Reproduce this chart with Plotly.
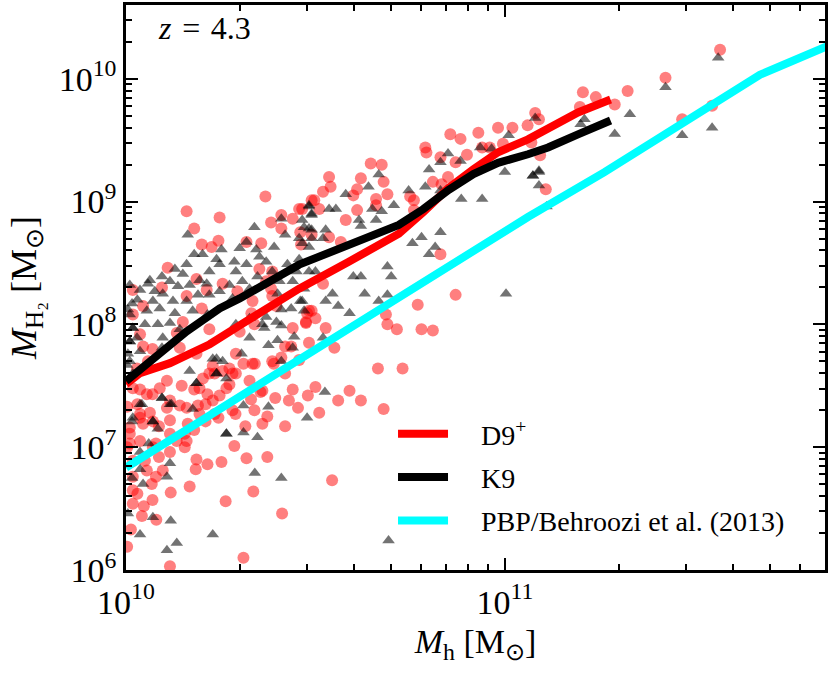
import numpy as np
import plotly.graph_objects as go

# galaxy samples at z = 4.3, values as log10(M / Msun)
d9_log_mh = [
    11.568, 11.424, 11.324, 11.29, 11.206, 11.24, 11.198, 11.08, 11.09, 11.093, 11.108, 11.468, 11.547, 11.07,
    10.856, 10.883, 10.93, 10.982, 11.02, 11.06, 10.79, 10.793, 10.94, 10.96, 10.995, 10.83, 10.87, 10.90,
    10.646, 10.675, 10.62, 10.68, 10.85, 10.81, 10.833, 10.536, 10.54, 10.52, 10.61, 10.60, 10.66, 10.69,
    10.497, 10.75, 10.76, 10.465, 10.51, 10.61, 10.66, 10.76, 10.58, 10.536, 10.567, 10.462, 10.83, 10.52,
    10.87, 10.77, 10.686, 10.69, 10.715, 10.78, 10.81, 10.527, 10.50, 10.483, 10.475, 10.483, 10.55,
    10.436, 10.39, 10.41, 10.34, 10.31, 10.42, 10.457, 10.665, 10.73, 10.50, 10.44, 10.43, 10.48, 10.454,
    10.51, 10.59, 10.56, 10.62, 10.68, 10.394, 10.355, 10.33, 10.373, 10.36, 10.42, 10.315, 10.318, 10.373,
    10.336, 10.544,
    10.286, 10.252, 10.215, 10.186, 10.184, 10.168, 10.118, 10.263, 10.412, 10.31, 10.116, 10.013, 10.003,
    10.042, 10.08, 10.047, 10.07, 10.018, 10.03, 10.018, 10.068, 10.079, 10.097, 10.055, 10.018, 10.087,
    10.05, 10.116, 10.155, 10.134, 10.079, 10.01, 10.018, 10.01, 10.045, 10.087, 10.116, 10.155, 10.18,
    10.163, 10.21, 10.244, 10.19, 10.142, 10.108, 10.063, 10.03, 10.003, 10.037, 10.21, 10.247, 10.215,
    10.18, 10.147, 10.108, 10.07, 10.037, 10.234, 10.203, 10.273, 10.281, 10.326, 10.36, 10.339, 10.289,
    10.234,
    10.368, 10.16, 10.247, 10.18, 10.20, 10.244, 10.357, 10.226, 10.318, 10.11, 10.018, 10.045, 10.095,
    10.186, 10.213, 10.16, 10.2, 10.255, 10.294, 10.383, 10.386, 10.334, 10.331, 10.339, 10.30, 10.15,
    10.134, 10.22, 10.142, 10.186, 10.07, 10.045, 10.058, 10.029, 10.229, 10.273, 10.29, 10.29, 10.334,
    10.386, 10.42, 10.44, 10.475, 10.478, 10.49, 10.397, 10.37, 10.41, 10.44, 10.457, 10.49, 10.383, 10.41,
    10.46, 10.49, 10.352, 10.386, 10.018, 10.037,
    10.018, 10.055, 10.089, 10.116, 10.16, 10.194, 10.22, 10.255, 10.265, 10.194, 10.229, 10.281, 10.037,
    10.01, 10.071, 10.116, 10.16, 10.037, 10.003, 10.071,
]
d9_log_mh2 = [
    10.235, 10.008, 9.90, 9.79, 9.89, 9.85, 9.77, 9.72, 9.67, 9.377, 9.10, 9.67, 9.78, 9.48,
    9.547, 9.51, 9.56, 9.60, 9.60, 9.62, 9.44, 9.40, 9.44, 9.44, 9.47, 9.36, 9.32, 9.38,
    9.31, 9.30, 9.19, 9.16, 9.20, 9.16, 9.14, 9.20, 9.12, 9.08, 9.10, 9.05, 9.02, 9.06,
    9.01, 9.04, 9.01, 8.94, 8.94, 8.93, 8.97, 8.93, 8.85, 8.71, 8.67, 8.65, 8.57, 8.33,
    8.24, 8.16, 8.08, 8.00, 7.96, 7.96, 7.95, 7.97, 8.05, 8.11, 8.01, 7.85, 7.81,
    7.82, 7.68, 7.73, 7.68, 7.68, 7.60, 7.71, 7.64, 7.64, 7.49, 7.47, 7.38, 7.42, 7.32,
    7.28, 7.46, 7.38, 7.38, 7.31, 7.40, 7.45, 7.39, 7.25, 7.19, 7.17, 7.17, 6.91, 6.92,
    6.64, 6.73,
    7.01, 6.88, 6.86, 6.90, 6.82, 6.68, 6.63, 6.56, 6.46, 6.10, 6.03, 6.33, 6.19,
    6.44, 6.41, 6.52, 6.57, 6.54, 6.62, 6.65, 6.70, 6.76, 6.81, 6.81, 6.76, 6.92,
    6.89, 6.96, 7.00, 7.05, 7.03, 7.03, 6.89, 7.11, 7.19, 7.17, 7.22, 7.11, 7.14,
    7.19, 7.21, 7.24, 7.34, 7.34, 7.32, 7.28, 7.35, 7.33, 7.24, 7.35, 7.42, 7.43,
    7.47, 7.50, 7.54, 7.43, 7.47, 7.60, 7.56, 7.51, 7.60, 7.54, 7.46, 7.30, 7.27,
    7.27,
    9.04, 8.92, 8.87, 8.78, 8.65, 8.68, 8.66, 8.63, 8.67, 8.46, 8.28, 8.15, 8.30,
    8.37, 8.28, 8.23, 8.13, 8.33, 8.27, 8.29, 8.23, 8.19, 8.09, 8.00, 7.94, 8.02,
    7.93, 7.96, 7.81, 7.76, 7.80, 7.82, 7.70, 7.64, 7.66, 7.64, 7.76, 7.60, 7.68,
    7.70, 7.82, 7.97, 8.02, 8.09, 8.11, 8.15, 8.35, 8.89, 8.86, 8.94, 9.01, 8.83, 8.78,
    8.75, 8.73, 8.45, 8.43, 8.08, 7.92,
    7.48, 7.43, 7.48, 7.38, 7.32, 7.48, 7.60, 7.62, 7.48, 7.27, 7.38, 7.30, 7.27,
    7.16, 7.21, 7.11, 7.05, 7.05, 7.00, 7.00,
]

k9_log_mh = [
    11.563, 11.424, 11.33, 11.29, 11.20, 11.21, 11.468, 11.547, 11.074, 11.09, 11.09, 11.11,
    11.08, 11.01, 10.935, 10.965, 10.85, 10.83, 10.80, 10.883, 11.0, 11.074, 11.09, 10.667, 10.64,
    10.58, 10.746, 10.79, 10.83, 10.885, 10.94, 10.707, 10.675, 10.65, 10.66, 10.615, 10.62, 10.483,
    10.536, 10.554, 10.49, 10.465, 10.483, 10.527, 10.52, 10.49, 10.465, 10.83, 10.78, 10.756, 10.816,
    10.80, 10.69, 10.60, 10.62, 10.70, 10.483, 10.545, 10.63, 11.003, 10.527, 10.56, 10.59, 10.667,
    10.69, 10.465, 10.52,
    10.326, 10.376, 10.40, 10.444, 10.41, 10.36, 10.31, 10.376, 10.525, 10.478, 10.31, 10.347, 10.34,
    10.41,
    10.095, 10.12, 10.042, 10.186, 10.176, 10.071, 10.016, 10.084, 10.06, 10.037, 10.116, 10.108,
    10.037, 10.016, 10.045, 10.071, 10.118, 10.037, 10.134, 10.108, 10.229, 10.265, 10.005,
    10.483, 10.49, 10.41, 10.339, 10.47, 10.163, 10.318, 10.344, 10.30, 10.42, 10.457, 10.49, 10.391,
    10.252, 10.202, 10.18, 10.239, 10.247, 10.22, 10.286, 10.318, 10.352, 10.37, 10.426, 10.457, 10.483,
    10.29, 10.347, 10.386, 10.405, 10.44, 10.45, 10.50, 10.47, 10.40, 10.16, 10.129, 10.15, 10.095,
    10.116, 10.063, 10.058, 10.037, 10.01, 10.076, 10.097, 10.137, 10.168, 10.194, 10.213, 10.19, 10.22,
    10.247, 10.273, 10.307, 10.326, 10.281, 10.16, 10.124, 10.071, 10.03, 10.016, 10.005, 10.055,
    10.089, 10.129, 10.176, 10.215, 10.116, 10.084, 10.05, 10.018, 10.029, 10.01, 10.097, 10.142,
    10.095, 10.037, 10.005, 10.37, 10.365, 10.397, 10.41, 10.46, 10.47, 10.436, 10.239, 10.255, 10.305,
    10.239, 10.01, 10.003, 10.018, 10.41, 10.44, 10.326, 10.29,
    10.229, 10.239, 10.265, 10.168, 10.186, 10.095, 10.116, 10.037, 10.071, 10.265, 10.018, 10.01,
    10.018, 10.01, 10.693,
]
k9_log_mh2 = [
    10.17, 9.93, 9.71, 9.55, 9.63, 9.67, 9.54, 9.60, 9.21, 9.25, 9.13, 8.96,
    9.68, 9.54, 9.44, 9.43, 9.39, 9.32, 9.26, 9.33, 9.24, 9.21, 9.24, 9.22, 9.12,
    9.06, 9.09, 9.12, 9.09, 9.02, 9.02, 8.97, 8.92, 8.94, 8.85, 8.85, 8.80, 8.97,
    8.94, 8.94, 8.89, 8.85, 8.78, 8.77, 8.70, 8.70, 8.66, 8.75, 8.71, 8.66, 8.63,
    8.57, 8.47, 8.39, 8.39, 8.39, 8.43, 8.25, 8.25, 8.25, 8.19, 8.15, 8.09, 8.19,
    8.24, 8.19, 7.89,
    7.89, 7.83, 7.87, 7.90, 7.99, 8.00, 7.34, 7.33, 7.45, 7.24, 7.12, 7.08, 6.79,
    6.75,
    7.40, 7.35, 7.35, 7.52, 7.31, 7.21, 7.21, 7.15, 7.03, 6.96, 6.87, 6.76,
    6.82, 6.75, 6.70, 6.43, 6.40, 6.29, 6.22, 6.16, 6.29, 7.11, 6.46,
    8.96, 8.90, 8.86, 8.79, 8.79, 8.73, 8.67, 8.61, 8.62, 8.73, 8.70, 8.77, 8.63,
    8.61, 8.57, 8.57, 8.53, 8.49, 8.43, 8.51, 8.49, 8.55, 8.51, 8.49, 8.53, 8.63,
    8.43, 8.39, 8.43, 8.35, 8.35, 8.43, 8.43, 8.29, 8.25, 8.49, 8.45, 8.41, 8.39,
    8.35, 8.36, 8.33, 8.28, 8.32, 8.27, 8.25, 8.31, 8.32, 8.36, 8.33, 8.24, 8.24,
    8.27, 8.32, 8.35, 8.29, 8.21, 8.19, 8.19, 8.19, 8.20, 8.17, 8.12, 8.11,
    8.13, 8.09, 8.11, 8.08, 8.01, 8.00, 8.00, 7.97, 7.89, 7.86, 7.89, 7.96,
    7.81, 7.78, 7.76, 8.06, 7.97, 8.02, 8.12, 8.19, 8.11, 8.13, 7.72, 7.70, 7.76,
    7.60, 7.70, 7.67, 7.60, 7.70, 7.81, 8.05, 8.00,
    7.72, 7.60, 7.56, 7.62, 7.52, 7.40, 7.35, 7.35, 7.21, 7.11, 7.24, 8.08,
    7.97, 7.86, 6.24,
]

# running medians
d9_med_mh = [10.0, 10.037, 10.116, 10.221, 10.30, 10.457, 10.588, 10.72, 10.785, 10.851, 10.917, 10.982,
             11.061, 11.114, 11.193, 11.279]
d9_med_mh2 = [7.514, 7.603, 7.684, 7.838, 7.992, 8.291, 8.51, 8.737, 8.915, 9.109, 9.263, 9.401,
              9.506, 9.595, 9.725, 9.83]
k9_med_mh = [10.0, 10.071, 10.16, 10.247, 10.30, 10.457, 10.588, 10.72, 10.785, 10.851, 10.917, 10.982,
             11.061, 11.114, 11.193, 11.279]
k9_med_mh2 = [7.538, 7.725, 7.943, 8.13, 8.211, 8.486, 8.648, 8.81, 8.939, 9.093, 9.223, 9.315,
              9.385, 9.44, 9.547, 9.66]

# PBP relation with Behroozi et al. (2013) stellar masses
pbp_mh = [10.0, 10.423, 11.061, 11.263, 11.673, 11.723, 11.9]
pbp_mh2 = [6.834, 7.644, 8.874, 9.239, 10.032, 10.097, 10.33]

x_decades = [10, 11]
y_decades = [6, 7, 8, 9, 10]

serif = "Liberation Serif"
gap = "\u00a0" * 4


def lin(v):
    return 10 ** np.array(v, dtype=float)


def power_labels(decades):
    return ["10<sup>%d</sup>" % d for d in decades]


def minor_vals(decades):
    return [k * 10.0 ** d for d in range(decades[0] - 1, decades[-1] + 1) for k in range(2, 10)]


fig = go.Figure()
fig.add_trace(go.Scatter(x=lin(d9_log_mh), y=lin(d9_log_mh2), mode="markers", showlegend=False,
                         marker=dict(symbol="circle", size=12, color="rgba(255,0,0,0.5)", line_width=0)))
fig.add_trace(go.Scatter(x=lin(k9_log_mh), y=lin(k9_log_mh2), mode="markers", showlegend=False,
                         marker=dict(symbol="triangle-up", size=11, color="rgba(0,0,0,0.55)", line_width=0)))
fig.add_trace(go.Scatter(x=lin(d9_med_mh), y=lin(d9_med_mh2), mode="lines", name=gap + "D9<sup>+</sup>",
                         legendgroup="a", line=dict(color="#ff0000", width=8)))
fig.add_trace(go.Scatter(x=lin(k9_med_mh), y=lin(k9_med_mh2), mode="lines", name=gap + "K9",
                         legendgroup="b", line=dict(color="#000000", width=8)))
fig.add_trace(go.Scatter(x=lin(pbp_mh), y=lin(pbp_mh2), mode="lines", name=gap + "PBP/Behroozi et al. (2013)",
                         legendgroup="c", line=dict(color="#00ffff", width=8)))

axis_style = dict(type="log", showgrid=False, zeroline=False, showline=True, linecolor="black", linewidth=2.5,
                  mirror="ticks", ticks="inside", ticklen=12, tickwidth=2, tickcolor="black",
                  tickfont=dict(family=serif, size=34, color="black"))

fig.update_xaxes(axis_style, range=[10, 11.845],
                 tickvals=lin(x_decades), ticktext=power_labels(x_decades),
                 minor=dict(tickvals=minor_vals(x_decades), ticks="inside", ticklen=6, tickwidth=1.5,
                            tickcolor="black"),
                 title=dict(text="<i>M</i><sub>h</sub> [M<sub>⊙</sub>]", standoff=10,
                            font=dict(family=serif, size=34, color="black")))
fig.update_yaxes(axis_style, range=[6, 10.6],
                 tickvals=lin(y_decades), ticktext=power_labels(y_decades),
                 minor=dict(tickvals=minor_vals(y_decades), ticks="inside", ticklen=6, tickwidth=1.5,
                            tickcolor="black"),
                 title=dict(text="<i>M</i><sub>H₂</sub> [M<sub>⊙</sub>]", standoff=12,
                            font=dict(family=serif, size=36, color="black")))

fig.add_annotation(text="<i>z</i>\u2004=\u20044.3", xref="paper", yref="paper", x=0.043, y=0.995,
                   xanchor="left", yanchor="top", showarrow=False,
                   font=dict(family=serif, size=32, color="black"))

fig.update_layout(
    width=830, height=673,
    margin=dict(l=126, r=2, t=2, b=103),
    plot_bgcolor="white", paper_bgcolor="white",
    legend=dict(x=0.382, y=0.285, xanchor="left", yanchor="top", bgcolor="rgba(0,0,0,0)",
                font=dict(family=serif, size=28, color="black"), itemwidth=50, tracegroupgap=4),
)

fig.write_html("out.html", config={"displayModeBar": False},
               post_script="document.body.style.margin='0px';")
